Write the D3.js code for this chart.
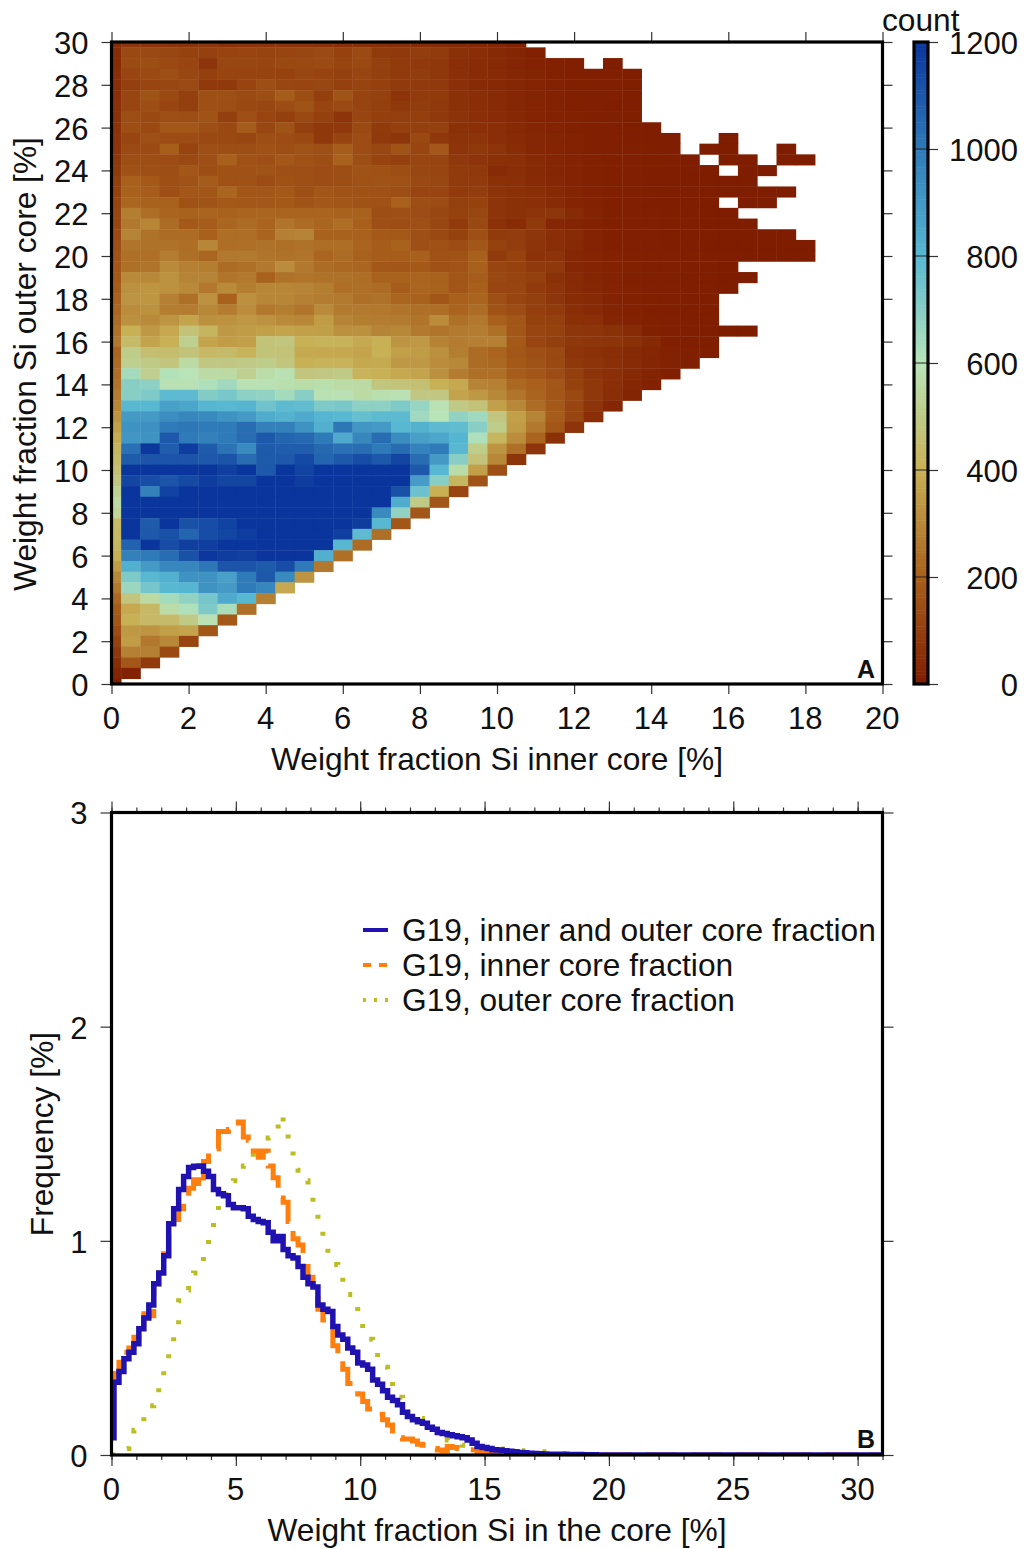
<!DOCTYPE html>
<html>
<head>
<meta charset="utf-8">
<script src="https://cdn.jsdelivr.net/npm/d3@7"></script>
<style>
body{margin:0;background:#fff}
text{font-family:"Liberation Sans",Helvetica,Arial,sans-serif;fill:#111}
</style>
</head>
<body>
<main></main>
<script>
const w=1024;
const h=1549;
const binWidth=0.5; //histogram cell size in % Si
const yTop=30;
// counts per cell, first row is y=30, every next row 0.5 lower. index in a row = x/0.5, null = empty cell
const countRows=[
[40,75,70,70,65,75,60,65,70,70,65,60,55,55,50,50,45,40,35,30,25,15],
[45,130,130,125,110,105,115,120,115,120,125,135,110,135,90,85,95,90,60,50,35,25,12],
[45,135,145,130,120,70,125,125,120,130,130,135,115,130,105,90,85,80,50,45,35,25,15,12,8,null,4],
[50,120,135,145,125,105,120,115,115,110,125,115,105,120,100,90,95,80,55,45,40,30,20,12,8,6,5,3],
[50,100,120,125,135,85,85,115,145,125,120,125,105,115,105,90,90,85,55,40,35,28,22,15,10,8,5,3],
[55,120,160,130,100,150,150,135,145,190,145,100,165,115,105,70,90,90,60,50,40,30,20,15,10,7,5,3],
[60,120,145,120,100,150,145,130,125,140,160,120,130,115,100,80,95,85,60,50,40,30,22,14,10,7,4,2],
[60,145,130,150,145,160,100,150,120,100,130,105,70,120,100,100,100,85,65,55,42,32,22,15,12,8,5,3],
[65,145,130,170,170,145,130,185,125,160,100,80,80,130,90,100,100,105,60,55,50,35,25,18,12,8,6,3,2],
[70,120,150,140,140,130,130,125,145,140,130,80,115,140,85,75,130,80,65,70,50,40,28,20,14,9,6,4,3,2,null,null,1],
[70,135,135,195,115,150,145,145,155,145,160,150,190,140,125,160,120,175,70,80,70,48,30,22,15,10,7,5,3,2,null,1,1,null,null,1],
[80,145,145,140,130,150,200,155,150,175,155,145,205,145,115,105,120,115,80,70,60,55,35,25,18,12,8,5,3,2,1,null,1,1,null,1,1],
[90,155,150,145,170,145,155,155,160,150,150,140,145,160,155,145,125,120,90,85,40,50,35,25,18,12,8,5,3,2,1,1,null,1,1],
[100,200,180,150,160,185,155,155,140,155,150,140,145,155,160,155,130,125,90,90,60,55,40,30,18,12,8,5,3,2,1,1,1,1],
[110,205,190,150,170,170,215,170,170,180,150,170,160,155,155,145,120,120,90,95,65,60,50,35,20,12,8,5,3,2,2,1,1,1,1,1],
[120,215,205,205,155,160,180,175,175,180,160,175,170,160,155,200,145,140,105,110,70,60,55,40,22,14,9,6,4,3,2,1,null,1,1],
[125,275,235,210,205,210,205,210,215,210,210,210,205,205,145,150,140,125,110,125,70,60,70,75,40,18,10,7,5,3,2,1,1],
[125,260,295,230,180,190,215,230,210,250,230,215,235,200,150,145,150,125,90,130,60,45,85,30,20,15,10,7,5,3,2,1,1,1],
[135,290,245,230,230,200,235,235,210,280,290,205,205,205,180,180,150,130,110,150,90,95,75,50,40,18,10,7,5,3,2,2,1,1,1,1],
[150,250,245,245,235,295,235,240,245,240,245,235,235,210,190,205,150,155,140,170,110,95,70,50,35,18,10,7,5,4,2,1,1,1,1,1,1],
[160,240,240,270,240,215,260,265,250,245,250,215,230,205,190,190,200,155,160,200,90,110,65,65,30,22,14,10,6,5,3,2,2,1,1,1,1],
[170,240,250,305,280,275,230,240,260,310,260,230,220,215,175,170,180,155,165,200,120,110,85,80,30,22,15,11,7,5,3,2,1],
[180,305,300,325,290,290,250,265,205,245,250,245,245,235,205,205,210,205,170,190,130,115,100,60,40,25,18,12,7,5,3,2,1,1],
[190,320,335,325,305,260,305,275,295,295,290,275,235,240,230,190,215,205,170,200,120,120,90,70,40,28,18,11,7,5,3,2,1],
[205,330,335,280,240,325,205,320,295,295,280,270,265,240,245,215,205,170,200,210,150,120,100,75,45,35,18,12,8,5,3,2],
[215,310,325,275,270,300,270,310,260,275,250,305,265,265,260,250,240,235,210,230,160,140,100,90,50,40,20,13,9,6,3,2],
[230,320,305,330,370,320,325,340,325,305,295,350,290,275,270,265,250,310,240,260,200,170,110,100,60,55,24,14,9,6,4,2],
[245,400,340,380,470,420,340,350,360,370,360,355,320,320,290,300,265,250,265,270,240,170,120,110,75,70,60,40,12,7,4,2,1,1],
[260,440,370,400,520,370,350,360,470,480,400,410,410,380,400,330,340,285,270,280,280,180,120,100,80,75,70,60,35,10,4,2],
[215,510,455,450,470,430,440,410,470,470,385,380,380,370,400,360,350,320,275,230,210,170,150,130,70,60,50,35,25,14,8,3],
[225,520,500,480,560,490,490,500,510,480,400,410,410,380,385,340,340,310,300,230,220,180,160,130,80,70,55,40,25,14,8],
[235,640,520,610,600,560,560,520,570,590,480,490,500,410,400,380,370,320,270,240,240,190,170,140,100,70,55,35,20,10],
[250,700,690,590,590,620,650,590,590,580,570,580,560,560,480,470,460,400,380,290,280,220,200,170,110,80,55,30,15],
[270,700,720,790,790,710,730,690,680,640,700,590,590,560,580,590,490,490,370,340,300,250,210,170,130,80,50,20],
[300,800,800,880,860,810,800,810,750,790,780,720,730,690,690,720,670,590,500,470,360,300,230,180,120,70,30],
[330,900,900,940,960,950,920,900,840,820,850,810,800,770,790,790,650,600,680,650,480,360,290,190,120,50],
[360,920,930,1000,1010,1000,1000,1040,980,980,920,830,1010,910,900,800,820,790,780,700,510,350,260,170,70],
[390,910,920,1100,1000,980,1000,1040,1100,1060,1050,1000,850,960,1040,940,880,860,810,620,420,310,210,60],
[420,1030,1190,1080,1180,1090,1020,950,1090,1080,1080,1050,1030,1040,1000,1040,970,1000,800,510,330,240,70],
[440,1090,1110,1110,1110,1100,1110,1040,1090,1100,1140,1060,1100,1130,1100,1150,1040,900,700,470,300,70],
[460,1230,1230,1230,1230,1230,1170,1200,1100,1210,1160,1210,1210,1210,1230,1230,1100,800,570,360,150],
[490,1150,1130,1110,1140,1180,1150,1150,1200,1200,1180,1200,1200,1200,1220,1220,890,700,420,160],
[530,1220,980,1160,1220,1220,1220,1220,1220,1220,1220,1220,1220,1220,1250,1120,760,400,120],
[560,1240,1240,1230,1240,1240,1240,1240,1240,1240,1240,1240,1240,1240,1240,840,500,170],
[540,1240,1240,1240,1240,1240,1240,1240,1240,1240,1240,1240,1240,1240,950,680,170],
[440,1240,1090,1240,1120,1130,1160,1240,1240,1240,1240,1240,1240,1180,800,170],
[430,1240,1100,1120,1060,1130,1150,1180,1240,1240,1240,1240,1170,790,240],
[420,1070,1210,1130,1170,1170,1240,1240,1240,1240,1240,1230,800,230],
[400,980,1000,1040,1120,1190,1180,1170,1220,1220,1220,830,240],
[350,830,900,960,960,1010,1110,1110,1090,1130,1000,260],
[300,720,800,830,920,920,880,1000,1100,950,330],
[260,660,740,800,810,920,900,1000,960,380],
[220,480,560,640,680,740,850,800,280],
[190,380,430,570,620,720,630,240],
[170,400,430,440,500,590,180],
[140,340,330,360,370,170],
[110,350,260,300,120],
[80,280,280,130],
[50,170,90],
[25,15],
[10]
];
const colorTicks=[0,200,400,600,800,1000,1200];
const colorStops=["#7f1d00","#a8601c","#c8b055","#b8e4b8","#58b8d2","#2f7ab8","#0a359c"];
const xTicksA=[0,2,4,6,8,10,12,14,16,18,20];
const yTicksA=[0,2,4,6,8,10,12,14,16,18,20,22,24,26,28,30];

const siStep=0.2; //frequency curves are read every 0.2 % Si
const siMax=31;
const freqBoth=[0.08,0.34,0.39,0.45,0.48,0.52,0.59,0.64,0.70,0.80,0.85,0.93,1.08,1.15,1.24,1.30,1.342,1.348,1.35,1.325,1.30,1.24,1.22,1.21,1.17,1.155,1.155,1.15,1.115,1.10,1.09,1.085,1.04,1.00,1.02,0.96,0.93,0.92,0.88,0.83,0.80,0.785,0.70,0.68,0.67,0.60,0.56,0.54,0.50,0.48,0.43,0.42,0.40,0.35,0.33,0.30,0.27,0.255,0.235,0.20,0.18,0.165,0.155,0.148,0.13,0.12,0.105,0.10,0.095,0.09,0.085,0.08,0.07,0.055,0.04,0.035,0.03,0.025,0.023,0.02,0.017,0.015,0.012,0.01,0.008,0.007,0.006,0.005,0.004,0.004,0.003,0.003,0.002,0.002,0.002,0.001,0.001,0.001,0,0,0];
const freqInner=[0.33,0.38,0.47,0.48,0.50,0.55,0.57,0.66,0.65,0.80,0.85,0.94,1.03,1.10,1.15,1.20,1.245,1.285,1.25,1.37,1.41,1.43,1.51,1.51,1.52,1.55,1.555,1.485,1.47,1.42,1.39,1.42,1.35,1.295,1.20,1.18,1.09,1.01,0.98,0.88,0.83,0.75,0.68,0.63,0.60,0.51,0.45,0.40,0.334,0.33,0.285,0.25,0.215,0.21,0.19,0.165,0.14,0.09,0.08,0.075,0.075,0.065,0.05,0.045,0.035,0.03,0.023,0.02,0.04,0.035,0.03,0.03,0.025,0.025,0.015,0.01,0.005,0.003,0,0];
const freqOuter=[0,0,0.01,0.03,0.08,0.115,0.15,0.19,0.23,0.29,0.35,0.42,0.49,0.59,0.72,0.77,0.81,0.85,0.89,0.94,1.05,1.14,1.18,1.215,1.25,1.28,1.31,1.35,1.38,1.44,1.41,1.45,1.48,1.485,1.59,1.50,1.42,1.39,1.33,1.28,1.23,1.16,1.06,0.99,0.90,0.89,0.85,0.78,0.75,0.70,0.64,0.58,0.54,0.51,0.445,0.41,0.37,0.30,0.27,0.25,0.20,0.18,0.17,0.163,0.14,0.12,0.10,0.08,0.07,0.06,0.05,0.045,0.035,0.027,0.028,0.028,0.028,0.028,0.028,0.028,0.028,0.025,0.022,0.02,0.018,0.017,0.016,0.015,0.012,0.01,0.008,0.006,0.005,0.004,0.003,0.002,0.001,0.001,0,0,0];
const xTicksB=[0,5,10,15,20,25,30];
const xMinorB=d3.range(0,32);
const yTicksB=[0,1,2,3];
const legendNames=["G19, inner and outer core fraction","G19, inner core fraction","G19, outer core fraction"];

const left=111.5,right=882.5;
const topA=42,bottomA=684,topB=812.5,bottomB=1455;

const svg=d3.select("main").append("svg").attr("width",w).attr("height",h).style("display","block");
svg.append("defs").append("clipPath").attr("id","clipA")
   .append("rect").attr("x",left).attr("y",topA).attr("width",right-left).attr("height",bottomA-topA);
svg.append("defs").append("clipPath").attr("id","clipB")
   .append("rect").attr("x",left).attr("y",topB).attr("width",right-left).attr("height",bottomB-topB);

const xA=d3.scaleLinear().domain([0,20]).range([left,right]);
const yA=d3.scaleLinear().domain([0,30]).range([bottomA,topA]);
const xB=d3.scaleLinear().domain([0,siMax]).range([left,right]);
const yB=d3.scaleLinear().domain([0,3]).range([bottomB,topB]);
const colorScale=d3.scaleLinear().domain(colorTicks).range(colorStops).clamp(true);
const yBar=d3.scaleLinear().domain([0,1200]).range([bottomA,topA]);

// panel A cells
const cells=[];
countRows.forEach((row,r)=>{
    row.forEach((c,i)=>{
        if(c!==null) cells.push({x:i*binWidth,y:yTop-r*binWidth,c:c});
    });
});
svg.append("g").attr("clip-path","url(#clipA)")
   .selectAll("rect").data(cells).enter().append("rect")
   .attr("x",d=>xA(d.x-binWidth/2))
   .attr("y",d=>yA(d.y+binWidth/2))
   .attr("width",xA(binWidth)-xA(0)+0.4)
   .attr("height",yA(0)-yA(binWidth)+0.4)
   .attr("fill",d=>colorScale(d.c));

// draws the ticks of a panel on every side, labels only left and bottom
const styleAxis=(g)=>{
    g.select(".domain").remove();
    g.selectAll(".tick line").attr("stroke","#333").attr("stroke-width",1.2);
    g.selectAll(".tick text").style("font-size","31px").attr("fill","#111");
};
const addAxes=(x,y,xTicks,yTicks,yb,yt,size)=>{
    svg.append("g").attr("transform","translate(0,"+yb+")")
       .call(d3.axisBottom(x).tickValues(xTicks).tickSize(size).tickPadding(size==10?13:12).tickFormat(d3.format("d")))
       .call(styleAxis)
       .selectAll(".tick text").attr("dx",-0.7);
    svg.append("g").attr("transform","translate(0,"+yt+")")
       .call(d3.axisTop(x).tickValues(xTicks).tickSize(size).tickFormat(""))
       .call(styleAxis);
    svg.append("g").attr("transform","translate("+left+",0)")
       .call(d3.axisLeft(y).tickValues(yTicks).tickSize(size).tickPadding(13).tickFormat(d3.format("d")))
       .call(styleAxis)
       .selectAll(".tick text").attr("dy",".37em");
    svg.append("g").attr("transform","translate("+right+",0)")
       .call(d3.axisRight(y).tickValues(yTicks).tickSize(size).tickFormat(""))
       .call(styleAxis);
};
addAxes(xA,yA,xTicksA,yTicksA,bottomA,topA,10);

svg.append("rect").attr("x",left).attr("y",topA).attr("width",right-left).attr("height",bottomA-topA)
   .attr("fill","none").attr("stroke","#000").attr("stroke-width",3.2);

svg.append("text").attr("x",497).attr("y",770).attr("text-anchor","middle").style("font-size","31.7px")
   .text("Weight fraction Si inner core [%]");
svg.append("text").attr("transform","translate(36,364) rotate(-90)").attr("text-anchor","middle").style("font-size","31.7px")
   .text("Weight fraction Si outer core [%]");
svg.append("text").attr("x",875).attr("y",678).attr("text-anchor","end").style("font-size","25px").style("font-weight","bold").text("A");

// colour bar
const barX=914,barW=14;
const barSteps=d3.range(0,1200,6);
svg.append("g").selectAll("rect").data(barSteps).enter().append("rect")
   .attr("x",barX).attr("width",barW)
   .attr("y",d=>yBar(d+6)).attr("height",d=>yBar(d)-yBar(d+6)+0.5)
   .attr("fill",d=>colorScale(d+3));
svg.append("g").attr("transform","translate("+(barX+barW)+",0)")
   .call(d3.axisRight(yBar).tickValues(colorTicks).tickSize(10).tickPadding(0).tickFormat(d3.format("d")))
   .call(styleAxis)
   .selectAll(".tick text").attr("x",90).attr("text-anchor","end").attr("dy",".37em");
svg.append("g").selectAll("line").data(colorTicks).enter().append("line")
   .attr("x1",barX).attr("x2",barX+barW)
   .attr("y1",d=>yBar(d)).attr("y2",d=>yBar(d)).attr("stroke","#222").attr("stroke-width",1);
svg.append("rect").attr("x",barX).attr("y",topA).attr("width",barW).attr("height",bottomA-topA)
   .attr("fill","none").attr("stroke","#000").attr("stroke-width",3.2);
svg.append("text").attr("x",882).attr("y",31).style("font-size","31.7px").text("count");

// panel B
const line=d3.line().x(d=>xB(d[0])).y(d=>yB(d[1])).curve(d3.curveStep);
const toPoints=(vals)=>{
    const pts=vals.map((v,i)=>[i*siStep,v]);
    pts.push([siMax,0]);
    return pts;
};
const freqColors=["#2012ae","#ff7f0e","#bcbd22"];
const freqDash=[null,"32,13","4,18"];
const freqWidth=[5.5,5,5];
const curves=svg.append("g").attr("clip-path","url(#clipB)");
[freqOuter,freqInner,freqBoth].forEach((vals,k)=>{
    const j=2-k;
    curves.append("path").datum(toPoints(vals))
          .attr("d",line)
          .attr("fill","none")
          .attr("stroke",freqColors[j])
          .attr("stroke-width",freqWidth[j])
          .attr("stroke-dasharray",freqDash[j]);
});

svg.append("g").attr("transform","translate(0,"+bottomB+")")
   .call(d3.axisBottom(xB).tickValues(xMinorB).tickSize(5).tickFormat(""))
   .call(styleAxis);
svg.append("g").attr("transform","translate(0,"+topB+")")
   .call(d3.axisTop(xB).tickValues(xMinorB).tickSize(5).tickFormat(""))
   .call(styleAxis);
addAxes(xB,yB,xTicksB,yTicksB,bottomB,topB,11);
svg.append("rect").attr("x",left).attr("y",topB).attr("width",right-left).attr("height",bottomB-topB)
   .attr("fill","none").attr("stroke","#000").attr("stroke-width",3.2);

svg.append("text").attr("x",497).attr("y",1541).attr("text-anchor","middle").style("font-size","31.7px")
   .text("Weight fraction Si in the core [%]");
svg.append("text").attr("transform","translate(53,1134) rotate(-90)").attr("text-anchor","middle").style("font-size","31.7px")
   .text("Frequency [%]");
svg.append("text").attr("x",875).attr("y",1448).attr("text-anchor","end").style("font-size","25px").style("font-weight","bold").text("B");

// legend
const legendDash=[null,"8,8","3,8"];
const legend=svg.append("g");
legendNames.forEach((name,i)=>{
    const ly=930+i*35;
    legend.append("line").attr("x1",363).attr("x2",388).attr("y1",ly).attr("y2",ly)
          .attr("stroke",freqColors[i]).attr("stroke-width",4).attr("stroke-dasharray",legendDash[i]);
    legend.append("text").attr("x",402).attr("y",ly+10.5).style("font-size","31.7px").text(name);
});
</script>
</body>
</html>
